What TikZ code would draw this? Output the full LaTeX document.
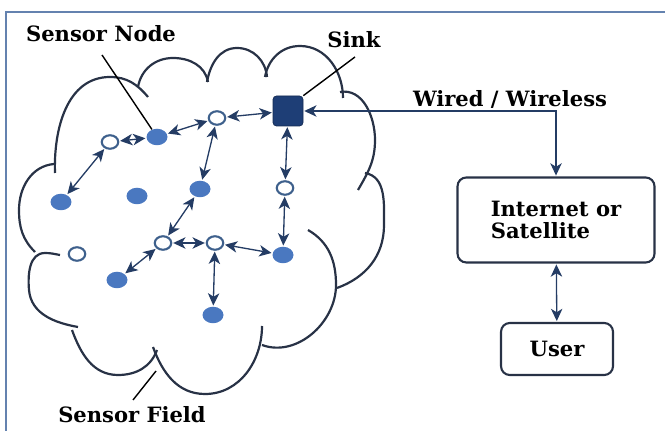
\documentclass[tikz,border=0pt]{standalone}
\usepackage{amssymb}
\usepackage{amsmath}
\usepackage{tikz}
\usepackage{color}
\usepackage{fontspec}
\setmainfont{DejaVu Serif}
\usetikzlibrary{arrows.meta,shapes.geometric}
\definecolor{fullblue}{RGB}{74,120,192}
\definecolor{ringblue}{RGB}{62,96,140}
\definecolor{sinkblue}{RGB}{30,62,118}
\definecolor{linkblue}{RGB}{36,60,100}
\definecolor{cloudline}{RGB}{40,50,70}
\definecolor{framecol}{RGB}{100,130,175}

\begin{document}
\begin{tikzpicture}[x=0.02cm,y=0.02cm,
  full/.style={ellipse,fill=fullblue,minimum width=0.42cm,minimum height=0.33cm,inner sep=0pt},
  hollow/.style={ellipse,draw=ringblue,line width=1.2pt,fill=white,minimum width=0.33cm,minimum height=0.27cm,inner sep=0pt},
  sinkbox/.style={rectangle,rounded corners=2pt,fill=sinkblue,draw=sinkblue!70!black,minimum size=0.6cm,inner sep=0pt},
  link/.style={{Stealth[length=7pt,width=6.5pt,inset=2pt]}-{Stealth[length=7pt,width=6.5pt,inset=2pt]},linkblue,line width=0.75pt,shorten <=0.5pt,shorten >=0.5pt},
  cloud/.style={cloudline,line width=1.25pt},
  leader/.style={black,line width=0.8pt},
  lbl/.style={font=\fontsize{12}{13}\selectfont\bfseries},
  netbox/.style={draw=cloudline,line width=1.2pt,rounded corners=5pt,fill=white}]
\useasboundingbox (0,0) rectangle (665,-431);
\draw[framecol,line width=1.1pt] (6,-431)--(6,-12)--(665,-12);
\draw[cloud] (55,-173) to[out=92,in=180] (110,-77) to[out=0,in=130] (148,-97);
\draw[cloud] (138,-87) to[out=80,in=180] (173,-58) to[out=0,in=100] (208,-82);
\draw[cloud] (207,-82) to[out=80,in=180] (237,-48) to[out=0,in=95] (267,-77);
\draw[cloud] (265,-77) to[out=80,in=180] (300,-46) to[out=0,in=90] (343,-98);
\draw[cloud] (340,-92) to[out=10,in=90] (375,-140) to[out=-90,in=60] (358,-190);
\draw[cloud] (365,-173) to[out=-10,in=90] (384,-225) to[out=-90,in=20] (337,-288);
\draw[cloud] (308,-230) to[out=-30,in=90] (336,-285) to[out=-90,in=-20] (262,-345);
\draw[cloud] (262,-326) to[out=-90,in=0] (205,-394) to[out=180,in=-70] (153,-347);
\draw[cloud] (157,-350) to[out=-110,in=0] (118,-375) to[out=180,in=-70] (72,-330);
\draw[cloud] (78,-327) to[out=170,in=-85] (29,-290) to[out=95,in=180] (45,-253) to[out=0,in=170] (60,-255);
\draw[cloud] (35,-252) to[out=135,in=-90] (19,-210) to[out=90,in=185] (54,-164);
\node[hollow] (a) at (110,-142) {};
\node[full] (b) at (157,-137) {};
\node[hollow] (c) at (217,-118) {};
\node[sinkbox] (s) at (288,-111) {};
\node[full] (d) at (61,-202) {};
\node[full] (e) at (137,-196) {};
\node[full] (f) at (200,-189) {};
\node[hollow] (g) at (285,-188) {};
\node[hollow] (h) at (163,-243) {};
\node[hollow] (i) at (215,-243) {};
\node[full] (j) at (283,-255) {};
\node[hollow] (k) at (77,-254) {};
\node[full] (l) at (117,-280) {};
\node[full] (m) at (213,-315) {};
\foreach \u/\v in {a/d,a/b,b/c,c/s,c/f,s/g,g/j,f/h,h/l,h/i,i/j,i/m}
  \draw[link] (\u) -- (\v);
\node[lbl] (nodelbl) at (101,-34) {Sensor Node};
\node[lbl] (sinklbl) at (354,-40) {Sink};
\node[lbl] (wirelbl) at (510,-99) {Wired / Wireless};
\node[lbl] (fieldlbl) at (132,-415) {Sensor Field};
\node[netbox,lbl,align=left,minimum width=3.94cm,minimum height=1.7cm] (inet) at (556,-220) {Internet or\\Satellite};
\node[netbox,lbl,minimum width=2.24cm,minimum height=1.04cm] (user) at (557,-349) {User};
\coordinate (nodetip) at (102,-55);
\coordinate (sinktip) at (355,-57);
\coordinate (fieldtip) at (133,-400);
\coordinate (fieldbase) at (156,-371);
\draw[leader] (nodetip) -- (b);
\draw[leader] (s.north east) -- (sinktip);
\draw[leader] (fieldbase) -- (fieldtip);
\draw[link] (s) -| (inet);
\draw[link] (inet) -- (user);
\end{tikzpicture}
\end{document}
